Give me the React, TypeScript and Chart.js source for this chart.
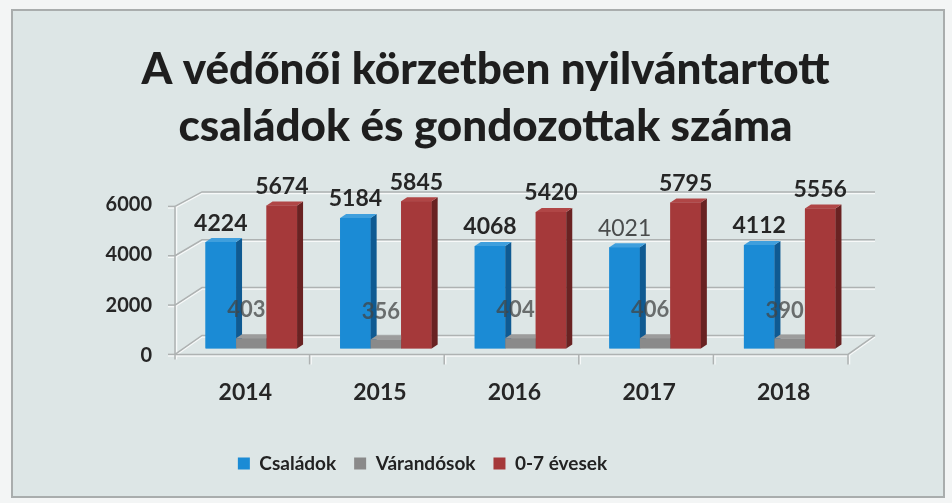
import React, { useEffect, useRef } from "react";
import { Chart, registerables } from "chart.js";

Chart.register(...registerables);

const titleLines = ["A védőnői körzetben nyilvántartott", "családok és gondozottak száma"];
const categories = ["2014", "2015", "2016", "2017", "2018"];
const seriesNames = ["Családok", "Várandósok", "0-7 évesek"];
const csaladok = [4224, 5184, 4068, 4021, 4112];
const varandosok = [403, 356, 404, 406, 390];
const evesek = [5674, 5845, 5420, 5795, 5556];
const yTickValues = [0, 2000, 4000, 6000];

const FRONT = ["#1b8bd5", "#8a8a8a", "#a5393a"];
const SIDE = ["#0f5a92", "#5c5c5c", "#692222"];
const TOP = ["#3f9fdd", "#9c9c9c", "#b04646"];
const FONT = "Lato, 'Open Sans', sans-serif";
const LEGEND_SHIFT = -56;
const TITLE_SHIFT = 7;

const framePlugin = {
  id: "frame",
  beforeDraw(chart: any) {
    const { ctx, width, height } = chart;
    ctx.save();
    ctx.fillStyle = "#f3f5f5";
    ctx.fillRect(0, 0, width, height);
    ctx.fillStyle = "#dde6e6";
    ctx.fillRect(12, 10, width - 20, height - 16);
    ctx.strokeStyle = "#a9adad";
    ctx.lineWidth = 2;
    ctx.strokeRect(12, 10, width - 20, height - 16);
    ctx.restore();
  },
};

const boxShiftPlugin = {
  id: "boxShift",
  afterLayout(chart: any) {
    const lg = chart.legend;
    if (lg) {
      lg.left += LEGEND_SHIFT;
      lg.right += LEGEND_SHIFT;
      if (typeof lg.adjustHitBoxes === "function") lg.adjustHitBoxes();
    }
    const tb = chart.titleBlock;
    if (tb) {
      tb.left += TITLE_SHIFT;
      tb.right += TITLE_SHIFT;
    }
  },
};

const grid3dPlugin = {
  id: "grid3d",
  beforeDatasetsDraw(chart: any) {
    const { ctx, chartArea } = chart;
    const y = chart.scales.y;
    const y0 = y.getPixelForValue(0);
    const fl = chartArea.left - 9;
    const fr = chartArea.right - 9;
    const bl = fl + 27;
    const br = fr + 27;
    const front = (v: number) => y0 + (y.getPixelForValue(v) - y0) * 0.98 + 6;
    const back = (v: number) => y0 + (y.getPixelForValue(v) - y0) * 0.95 - 13;
    const catW = (fr - fl) / categories.length;
    ctx.save();
    const strokeAll = (color: string, w: number, off: number) => {
      ctx.strokeStyle = color;
      ctx.lineWidth = w;
      for (const v of yTickValues) {
        ctx.beginPath();
        ctx.moveTo(fl, front(v) + off);
        ctx.lineTo(bl, back(v) + off);
        ctx.lineTo(br, back(v) + off);
        ctx.stroke();
        ctx.beginPath();
        ctx.moveTo(fl - 7, front(v) + off);
        ctx.lineTo(fl, front(v) + off);
        ctx.stroke();
      }
      ctx.beginPath();
      ctx.moveTo(fl, front(0) + off);
      ctx.lineTo(fr, front(0) + off);
      ctx.lineTo(br, back(0) + off);
      ctx.stroke();
      ctx.beginPath();
      ctx.moveTo(fl + off, front(6000));
      ctx.lineTo(fl + off, front(0) + 5);
      ctx.stroke();
      for (let i = 1; i <= categories.length; i++) {
        const px = fl + i * catW;
        ctx.beginPath();
        ctx.moveTo(px + off, front(0));
        ctx.lineTo(px + off, front(0) + 10);
        ctx.stroke();
      }
    };
    strokeAll("#f7f9f9", 1.5, 1.5);
    strokeAll("#aeb2b2", 1.5, 0);
    ctx.restore();
  },
};

const bar3dPlugin = {
  id: "bar3d",
  afterDatasetsDraw(chart: any) {
    const { ctx } = chart;
    const dx = 6;
    const dy = 4;
    ctx.save();
    chart.data.datasets.forEach((_ds: any, i: number) => {
      const meta = chart.getDatasetMeta(i);
      meta.data.forEach((el: any) => {
        el.draw(ctx);
        const { x, y, base, width } = el.getProps(["x", "y", "base", "width"], true);
        const l = x - width / 2;
        const r = x + width / 2;
        ctx.fillStyle = SIDE[i];
        ctx.beginPath();
        ctx.moveTo(r, y);
        ctx.lineTo(r + dx, y - dy);
        ctx.lineTo(r + dx, base - dy);
        ctx.lineTo(r, base);
        ctx.closePath();
        ctx.fill();
        ctx.fillStyle = TOP[i];
        ctx.beginPath();
        ctx.moveTo(l, y);
        ctx.lineTo(l + dx, y - dy);
        ctx.lineTo(r + dx, y - dy);
        ctx.lineTo(r, y);
        ctx.closePath();
        ctx.fill();
      });
    });
    ctx.restore();
  },
};

const labelPlugin = {
  id: "valueLabels",
  afterDatasetsDraw(chart: any) {
    const { ctx } = chart;
    ctx.save();
    ctx.textAlign = "center";
    ctx.textBaseline = "middle";
    chart.data.datasets.forEach((ds: any, di: number) => {
      const meta = chart.getDatasetMeta(di);
      meta.data.forEach((el: any, j: number) => {
        const { x, y } = el.getProps(["x", "y"], true);
        const light = di === 0 && j === 3;
        if (di === 1) {
          ctx.font = `bold 22px ${FONT}`;
          ctx.fillStyle = "rgba(66,68,68,0.75)";
          ctx.fillText(String(ds.data[j]), x - 5, y - 28);
        } else {
          ctx.font = `${light ? "normal" : "bold"} 23px ${FONT}`;
          ctx.fillStyle = light ? "#4a4c4c" : "#262626";
          ctx.fillText(String(ds.data[j]), x, y - 19);
        }
      });
    });
    ctx.restore();
  },
};

export default function App() {
  const ref = useRef<HTMLCanvasElement | null>(null);
  useEffect(() => {
    if (!ref.current) return;
    const seriesValues = [csaladok, varandosok, evesek];
    const chart = new Chart(ref.current, {
      type: "bar",
      data: {
        labels: categories,
        datasets: seriesNames.map((name, i) => ({
          label: name,
          data: seriesValues[i],
          backgroundColor: FRONT[i],
          borderWidth: 0,
          categoryPercentage: 0.68,
          barPercentage: 1,
        })),
      },
      options: {
        animation: false,
        responsive: false,
        layout: { padding: { top: 0, left: 100, right: 95, bottom: 20 } },
        plugins: {
          title: {
            display: true,
            text: titleLines,
            color: "#1e1e1e",
            font: { family: FONT, size: 44, weight: "900", lineHeight: 1.3 },
            padding: { top: 41, bottom: 42 },
          },
          legend: {
            position: "bottom",
            labels: {
              boxWidth: 12,
              boxHeight: 12,
              padding: 18,
              color: "#222",
              font: { family: FONT, size: 19, weight: "bold" },
            },
          },
          tooltip: { enabled: false },
        },
        scales: {
          x: {
            grid: { display: false, drawTicks: false },
            border: { display: false },
            ticks: {
              color: "#262626",
              padding: 30,
              labelOffset: -6,
              font: { family: FONT, size: 23, weight: "bold" },
            },
          },
          y: {
            min: 0,
            max: 6000,
            grid: { display: false, drawTicks: false },
            border: { display: false },
            afterBuildTicks: (scale: any) => {
              scale.ticks = yTickValues.map((v) => ({ value: v }));
            },
            afterFit: (scale: any) => {
              scale.width = 84;
            },
            ticks: {
              color: "#262626",
              padding: 32,
              labelOffset: 7,
              font: { family: FONT, size: 20, weight: "bold" },
              callback: (v: any) => String(v),
            },
          },
        },
      },
      plugins: [framePlugin, boxShiftPlugin, grid3dPlugin, bar3dPlugin, labelPlugin],
    });
    return () => chart.destroy();
  }, []);
  return (
    <div style={{ position: "fixed", left: 0, top: 0, width: 952, height: 503 }}>
      <canvas ref={ref} width={952} height={503} style={{ display: "block", width: 952, height: 503 }} />
    </div>
  );
}
